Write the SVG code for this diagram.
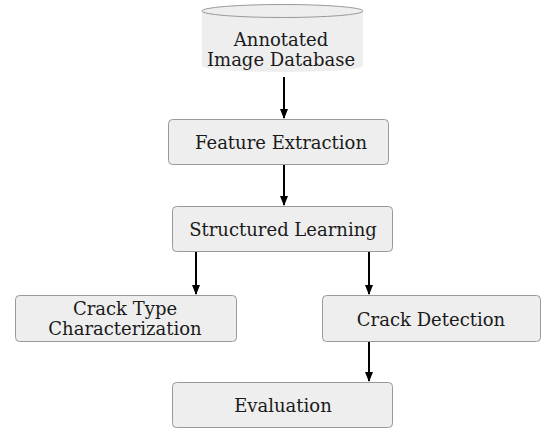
<svg xmlns="http://www.w3.org/2000/svg" width="542" height="430" viewBox="0 0 542 430">
<style>
.box{fill:#eeeeee;stroke:#999999;stroke-width:1}
.t{font-family:"DejaVu Serif","Liberation Serif",serif;font-size:18px;fill:#1a1a1a;text-anchor:middle}
.c{stroke:#000;stroke-width:2;fill:none;marker-end:url(#ah)}
</style>
<defs>
<marker id="ah" markerWidth="10" markerHeight="10" refX="9" refY="5" orient="auto" markerUnits="userSpaceOnUse">
<path d="M0,1 L10,5 L0,9 z" fill="#000"/>
</marker>
</defs>
<rect width="542" height="430" fill="#fff"/>
<g id="db">
<path d="M202,11 L202,66 A80.5,6 0 0 0 363,66 L363,11 Z" fill="#eeeeee"/>
<ellipse cx="282.5" cy="11" rx="80.5" ry="6.5" fill="#eeeeee" stroke="#999999" stroke-width="1"/>
<text class="t" x="281" y="46">Annotated</text>
<text class="t" x="281" y="66">Image Database</text>
</g>
<g id="fe">
<rect class="box" x="168.5" y="119.5" width="220" height="45" rx="4"/>
<text class="t" x="281" y="149">Feature Extraction</text>
</g>
<g id="sl">
<rect class="box" x="172.5" y="206.5" width="220" height="45" rx="4"/>
<text class="t" x="283" y="236">Structured Learning</text>
</g>
<g id="ct">
<rect class="box" x="15.5" y="295.5" width="221" height="46" rx="4"/>
<text class="t" x="125" y="315">Crack Type</text>
<text class="t" x="125" y="335">Characterization</text>
</g>
<g id="cd">
<rect class="box" x="322.5" y="295.5" width="218" height="46" rx="4"/>
<text class="t" x="431" y="326">Crack Detection</text>
</g>
<g id="ev">
<rect class="box" x="172.5" y="382.5" width="220" height="45" rx="4"/>
<text class="t" x="283" y="412">Evaluation</text>
</g>
<g id="connectors">
<line class="c" x1="284" y1="77" x2="284" y2="118"/>
<line class="c" x1="284" y1="165" x2="284" y2="205"/>
<line class="c" x1="196" y1="252" x2="196" y2="294"/>
<line class="c" x1="369" y1="252" x2="369" y2="294"/>
<line class="c" x1="369" y1="342" x2="369" y2="381"/>
</g>
</svg>
